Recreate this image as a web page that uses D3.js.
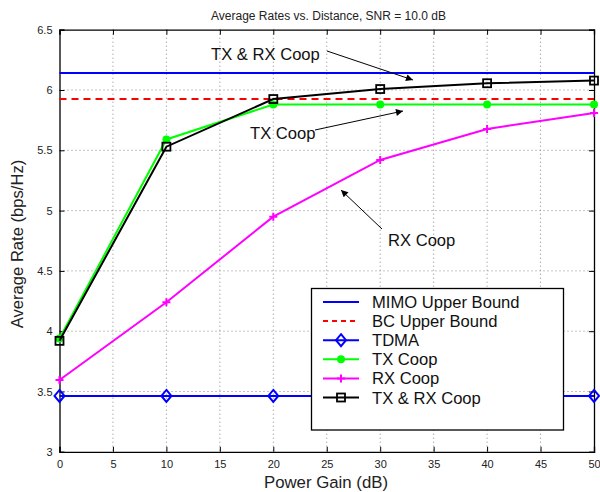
<!DOCTYPE html>
<html>
<head>
<meta charset="utf-8">
<script src="https://cdn.jsdelivr.net/npm/d3@7"></script>
<style>
  body { margin: 0; background: #fff; }
  svg { display: block; font-family: "Liberation Sans", Arial, sans-serif; }
</style>
</head>
<body>
<svg id="chart" width="600" height="492"></svg>
<script>
// Data
const gains = [0, 10, 20, 30, 40, 50];
const mimoBound = 6.14;
const bcBound = 5.925;
const tdma = [3.463, 3.463, 3.463, 3.463, 3.463, 3.463];
const txCoop = [3.94, 5.59, 5.88, 5.88, 5.88, 5.88];
const rxCoop = [3.595, 4.24, 4.95, 5.42, 5.677, 5.81];
const txrxCoop = [3.92, 5.53, 5.925, 6.008, 6.056, 6.078];
const xTicks = [0, 5, 10, 15, 20, 25, 30, 35, 40, 45, 50];
const yTicks = [3, 3.5, 4, 4.5, 5, 5.5, 6, 6.5];

const svg = d3.select('#chart');
const plotL = 59.5, plotR = 594, plotT = 29.7, plotB = 451.8;

const x = d3.scaleLinear().domain([0, 50]).range([plotL, plotR]);
const y = d3.scaleLinear().domain([3, 6.5]).range([plotB, plotT]);

// grid
const grid = svg.append('g').attr('stroke', '#888').attr('stroke-width', 1).attr('stroke-dasharray', '1,3');
grid.selectAll('.gx').data(xTicks.slice(1, -1)).join('line')
  .attr('x1', d => x(d)).attr('x2', d => x(d)).attr('y1', plotT).attr('y2', plotB);
grid.selectAll('.gy').data(yTicks.slice(1, -1)).join('line')
  .attr('y1', d => y(d)).attr('y2', d => y(d)).attr('x1', plotL).attr('x2', plotR);

// axes, ticks inward
const axB = svg.append('g').attr('transform', `translate(0,${plotB})`)
  .call(d3.axisBottom(x).tickValues(xTicks).tickSize(-5).tickPadding(8).tickFormat(d3.format('d')));
const axT = svg.append('g').attr('transform', `translate(0,${plotT})`)
  .call(d3.axisTop(x).tickValues(xTicks).tickSize(-5).tickFormat(''));
const axL = svg.append('g').attr('transform', `translate(${plotL},0)`)
  .call(d3.axisLeft(y).tickValues(yTicks).tickSize(-5).tickPadding(7).tickFormat(d => d));
const axR = svg.append('g').attr('transform', `translate(${plotR},0)`)
  .call(d3.axisRight(y).tickValues(yTicks).tickSize(-5).tickFormat(''));
[axB, axT, axL, axR].forEach(a => {
  a.select('.domain').attr('stroke', '#000').attr('stroke-width', 1.3);
  a.selectAll('.tick line').attr('stroke', '#000');
  a.selectAll('.tick text').attr('font-size', 11).attr('fill', '#222')
    .attr('font-family', '"Liberation Sans", Arial, sans-serif');
});

const line = d3.line().x((d, i) => x(gains[i])).y(d => y(d));

// bounds
svg.append('line').attr('x1', plotL).attr('x2', plotR)
  .attr('y1', y(mimoBound)).attr('y2', y(mimoBound))
  .attr('stroke', '#0000ff').attr('stroke-width', 2);
svg.append('line').attr('x1', plotL).attr('x2', plotR)
  .attr('y1', y(bcBound)).attr('y2', y(bcBound))
  .attr('stroke', '#ff0000').attr('stroke-width', 2).attr('stroke-dasharray', '7,5');

function drawSeries(vals, color, marker) {
  svg.append('path').datum(vals).attr('d', line)
    .attr('fill', 'none').attr('stroke', color).attr('stroke-width', 2);
  const g = svg.append('g');
  vals.forEach((v, i) => marker(g, x(gains[i]), y(v)));
}

const diamond = (g, cx, cy) => g.append('path')
  .attr('d', `M${cx},${cy - 6}L${cx + 5},${cy}L${cx},${cy + 6}L${cx - 5},${cy}Z`)
  .attr('fill', 'none').attr('stroke', '#0000ff').attr('stroke-width', 2);
const dot = (g, cx, cy) => g.append('circle').attr('cx', cx).attr('cy', cy).attr('r', 4).attr('fill', '#00ff00');
const plus = (g, cx, cy) => g.append('path')
  .attr('d', `M${cx - 4},${cy}H${cx + 4}M${cx},${cy - 4}V${cy + 4}`)
  .attr('stroke', '#ff00ff').attr('stroke-width', 2);
const square = (g, cx, cy) => g.append('rect')
  .attr('x', cx - 4).attr('y', cy - 4).attr('width', 8).attr('height', 8)
  .attr('fill', 'none').attr('stroke', '#000').attr('stroke-width', 1.8);

drawSeries(tdma, '#0000ff', diamond);
drawSeries(txCoop, '#00ff00', dot);
drawSeries(rxCoop, '#ff00ff', plus);
drawSeries(txrxCoop, '#000', square);

// annotations
const defs = svg.append('defs');
defs.append('marker').attr('id', 'arr').attr('viewBox', '0 0 10 10')
  .attr('refX', 10).attr('refY', 5).attr('markerWidth', 10).attr('markerHeight', 7)
  .attr('markerUnits', 'userSpaceOnUse').attr('orient', 'auto')
  .append('path').attr('d', 'M0,0L10,5L0,10Z').attr('fill', '#000');

const notes = [
  { text: 'TX & RX Coop', tx: 211, ty: 60, from: [327, 51], to: [413, 80] },
  { text: 'TX Coop', tx: 250, ty: 139, from: [315, 130], to: [403, 111] },
  { text: 'RX Coop', tx: 388, ty: 246, from: [382, 229], to: [341, 190] }
];
notes.forEach(n => {
  svg.append('text').attr('x', n.tx).attr('y', n.ty).attr('font-size', 16.6).attr('fill', '#111').text(n.text);
  svg.append('line').attr('x1', n.from[0]).attr('y1', n.from[1]).attr('x2', n.to[0]).attr('y2', n.to[1])
    .attr('stroke', '#000').attr('stroke-width', 1).attr('marker-end', 'url(#arr)');
});

// title and axis labels
svg.append('text').attr('x', 328.5).attr('y', 20).attr('text-anchor', 'middle').attr('font-size', 12)
  .attr('fill', '#222').text('Average Rates vs. Distance, SNR = 10.0 dB');
svg.append('text').attr('x', 326).attr('y', 487.5).attr('text-anchor', 'middle').attr('font-size', 16.8)
  .attr('fill', '#222').text('Power Gain (dB)');
svg.append('text').attr('transform', 'translate(23,244) rotate(-90)').attr('text-anchor', 'middle')
  .attr('font-size', 16.6).attr('fill', '#222').text('Average Rate (bps/Hz)');

// legend
const legendItems = [
  { name: 'MIMO Upper Bound', color: '#0000ff', dash: null, marker: null },
  { name: 'BC Upper Bound', color: '#ff0000', dash: '5,4', marker: null },
  { name: 'TDMA', color: '#0000ff', dash: null, marker: diamond },
  { name: 'TX Coop', color: '#00ff00', dash: null, marker: dot },
  { name: 'RX Coop', color: '#ff00ff', dash: null, marker: plus },
  { name: 'TX & RX Coop', color: '#000', dash: null, marker: square }
];
const lg = svg.append('g');
lg.append('rect').attr('x', 311.5).attr('y', 288.5).attr('width', 252).attr('height', 141.5)
  .attr('fill', '#fff').attr('stroke', '#000').attr('stroke-width', 1.3);
legendItems.forEach((d, i) => {
  const ly = 302 + i * 19.1;
  lg.append('line').attr('x1', 323).attr('x2', 359).attr('y1', ly).attr('y2', ly)
    .attr('stroke', d.color).attr('stroke-width', 2).attr('stroke-dasharray', d.dash);
  if (d.marker) d.marker(lg, 341, ly);
  lg.append('text').attr('x', 372).attr('y', ly + 6).attr('font-size', 16.6).attr('fill', '#111').text(d.name);
});
</script>
</body>
</html>
